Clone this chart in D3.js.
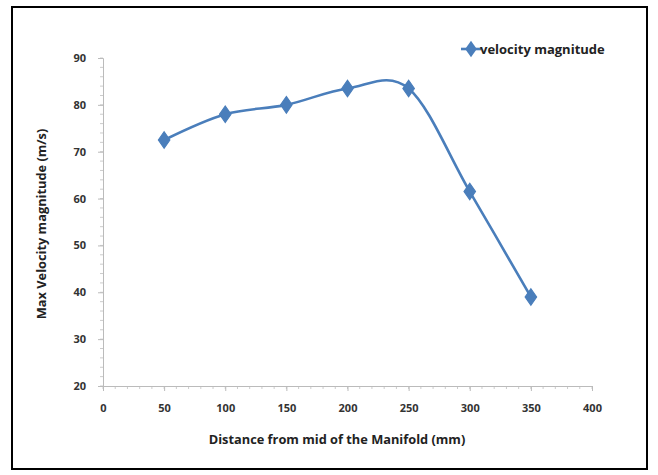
<!DOCTYPE html>
<html><head><meta charset="utf-8">
<script src="https://cdn.jsdelivr.net/npm/d3@7"></script>
<style>body{margin:0;background:#fff;} text{font-family:"Open Sans","Liberation Sans",sans-serif;}</style>
</head><body>
<svg id="c" width="658" height="475"></svg>
<script>
const distances = [50, 100, 150, 200, 250, 300, 350];
const velocity = [72.5, 78, 80, 83.5, 83.5, 61.5, 39];
const xTicks = [0, 50, 100, 150, 200, 250, 300, 350, 400];
const yTicks = [20, 30, 40, 50, 60, 70, 80, 90];
const seriesName = "velocity magnitude";
const xTitle = "Distance from mid of the Manifold (mm)";
const yTitle = "Max Velocity magnitude (m/s)";

const svg = d3.select("#c");
const blue = "#4A7EBB";
svg.append("rect").attr("x",12).attr("y",7).attr("width",635).attr("height",462)
  .attr("fill","#fff").attr("stroke","#000").attr("stroke-width",2);

const x = d3.scaleLinear().domain([0,400]).range([103,592]);
const y = d3.scaleLinear().domain([20,90]).range([386,58]);

// minor ticks
const gx = svg.append("g");
gx.selectAll("line").data(d3.range(0,401,10)).join("line")
  .attr("x1",d=>x(d)).attr("x2",d=>x(d)).attr("y1",y(20)).attr("y2",y(20)+3)
  .attr("stroke","#ccc").attr("stroke-width",1);
const gy = svg.append("g");
gy.selectAll("line").data(d3.range(20,91,2)).join("line")
  .attr("x1",x(0)-3).attr("x2",x(0)).attr("y1",d=>y(d)).attr("y2",d=>y(d))
  .attr("stroke","#ccc").attr("stroke-width",1);

const xAxis = svg.append("g").attr("transform",`translate(0,${y(20)})`)
  .call(d3.axisBottom(x).tickValues(xTicks).tickSize(5).tickPadding(13));
const yAxis = svg.append("g").attr("transform",`translate(${x(0)},0)`)
  .call(d3.axisLeft(y).tickValues(yTicks).tickSize(5).tickPadding(12));
[xAxis,yAxis].forEach(a=>{
  a.select(".domain").attr("stroke","#bbb");
  a.selectAll(".tick line").attr("stroke","#bbb");
  a.selectAll("text").attr("font-size",11).attr("font-weight","bold").attr("fill","#333")
   .style("font-family","'Open Sans',sans-serif");
});

svg.append("text").attr("x",337).attr("y",444).attr("text-anchor","middle")
  .attr("font-size",12.8).attr("font-weight","bold").attr("fill","#222").text(xTitle);
svg.append("text").attr("transform",`translate(46,224) rotate(-90)`).attr("text-anchor","middle")
  .attr("font-size",12.8).attr("font-weight","bold").attr("fill","#222").text(yTitle);

const data = distances.map((d,i)=>({x:d,y:velocity[i]}));
const line = d3.line().x(d=>x(d.x)).y(d=>y(d.y)).curve(d3.curveCatmullRom.alpha(0));
svg.append("path").datum(data).attr("d",line).attr("fill","none")
  .attr("stroke",blue).attr("stroke-width",2.6);

const diamond = d3.symbol().type(d3.symbolDiamond).size(80);
svg.selectAll(".pt").data(data).join("path").attr("class","pt")
  .attr("transform",d=>`translate(${x(d.x)},${y(d.y)}) scale(1.2,1)`).attr("d",diamond)
  .attr("fill",blue).attr("stroke",blue).attr("stroke-width",1);

// legend
svg.append("line").attr("x1",461).attr("x2",481).attr("y1",49).attr("y2",49)
  .attr("stroke",blue).attr("stroke-width",2.6);
svg.append("path").attr("transform","translate(471,49) scale(1.2,1)").attr("d",diamond).attr("fill",blue);
svg.append("text").attr("x",480).attr("y",54).attr("font-size",13).attr("font-weight","bold")
  .attr("fill","#222").text(seriesName);
</script>
</body></html>
